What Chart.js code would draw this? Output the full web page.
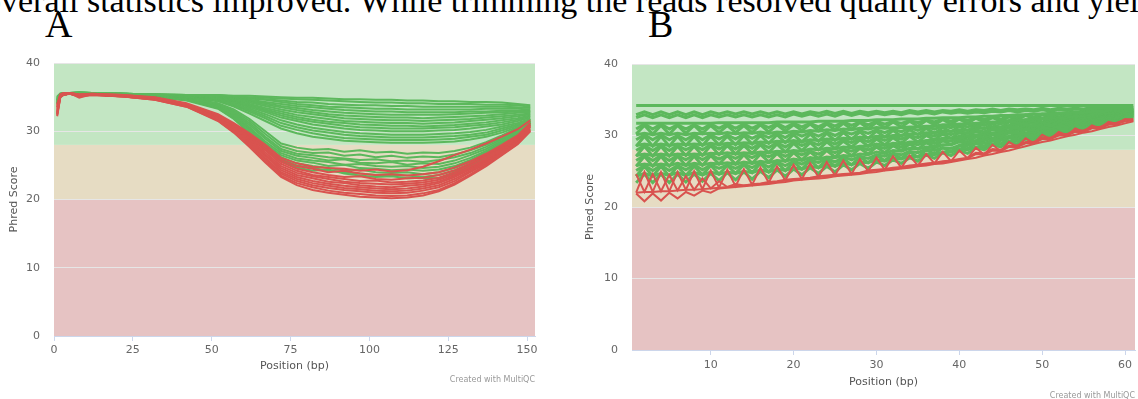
<!DOCTYPE html>
<html><head><meta charset="utf-8">
<script src="https://cdn.jsdelivr.net/npm/chart.js@4.4.1/dist/chart.umd.min.js"></script>
<style>
html,body{margin:0;padding:0;background:#fff;width:1138px;height:399px;overflow:hidden;position:relative}
.para{position:absolute;left:-16px;top:-16px;font-family:"Liberation Serif",serif;font-size:34px;line-height:1;white-space:nowrap;color:#000}
.lab{position:absolute;font-family:"Liberation Serif",serif;font-size:38px;line-height:1;color:#000}
.credit{position:absolute;font-family:"DejaVu Sans",sans-serif;font-size:8px;line-height:1;color:#999;white-space:nowrap}
.box{position:absolute}
canvas{display:block}
</style></head>
<body>
<div class="para">overall statistics improved. While trimming the reads resolved quality errors and yielded</div>
<div class="lab" style="left:45px;top:5px">A</div>
<div class="lab" style="left:648px;top:5px">B</div>
<div class="box" style="left:0;top:50px"><canvas id="cA" width="545" height="335"></canvas></div>
<div class="box" style="left:575px;top:50px"><canvas id="cB" width="563" height="349"></canvas></div>
<div class="credit" style="right:603px;top:376px">Created with MultiQC</div>
<div class="credit" style="right:3px;top:392px">Created with MultiQC</div>
<script>
// ---------- data ----------
const xTicksA = [0,25,50,75,100,125,150];
const xTicksB = [10,20,30,40,50,60];
const yTicks = [0,10,20,30,40];
const zoneFrom = [0,20,28];
const zoneTo = [20,28,40];

const posA = [1,2,3,5,8,12,22,32,42,52,57,62,67,72,77,82,87,92,97,102,107,112,117,122,127,132,137,142,147,151];

const passA = [
[35.0,35.5,35.6,35.6,35.7,35.6,35.5,35.4,35.3,35.3,35.2,35.2,35.1,35.0,34.9,34.9,34.8,34.7,34.7,34.6,34.6,34.5,34.5,34.4,34.4,34.3,34.3,34.2,34.0,33.8],
[34.8,35.4,35.6,35.6,35.7,35.6,35.5,35.4,35.3,35.3,35.1,35.0,34.9,34.8,34.7,34.6,34.5,34.4,34.3,34.2,34.2,34.1,34.1,34.0,34.0,34.0,33.9,33.9,33.8,33.6],
[35.1,35.5,35.6,35.6,35.6,35.6,35.5,35.4,35.3,35.2,35.0,34.9,34.7,34.5,34.3,34.2,34.0,33.9,33.8,33.8,33.7,33.7,33.6,33.6,33.6,33.6,33.6,33.6,33.5,33.4],
[34.6,35.3,35.5,35.6,35.6,35.6,35.5,35.4,35.3,35.2,35.0,34.8,34.6,34.3,34.0,33.8,33.6,33.5,33.4,33.3,33.3,33.2,33.2,33.2,33.2,33.2,33.3,33.3,33.3,33.2],
[35.0,35.5,35.6,35.6,35.7,35.6,35.5,35.4,35.2,35.1,34.9,34.6,34.3,34.0,33.7,33.5,33.3,33.1,33.0,32.9,32.9,32.8,32.8,32.8,32.8,32.9,32.9,33.0,33.0,33.0],
[34.5,35.3,35.5,35.6,35.6,35.6,35.5,35.4,35.2,35.1,34.8,34.5,34.1,33.7,33.4,33.1,32.9,32.7,32.6,32.5,32.4,32.4,32.4,32.4,32.5,32.6,32.7,32.8,32.9,32.9],
[34.9,35.4,35.6,35.6,35.6,35.6,35.5,35.3,35.2,35.0,34.7,34.4,33.9,33.5,33.1,32.8,32.5,32.3,32.2,32.1,32.0,32.0,31.9,32.0,32.1,32.2,32.3,32.5,32.7,32.8],
[34.3,35.2,35.5,35.6,35.6,35.5,35.5,35.3,35.2,35.0,34.6,34.2,33.7,33.2,32.8,32.5,32.2,31.9,31.8,31.7,31.6,31.6,31.5,31.6,31.7,31.8,32.0,32.2,32.4,32.6],
[34.7,35.4,35.5,35.6,35.6,35.5,35.4,35.3,35.1,34.9,34.5,34.0,33.4,32.9,32.4,32.1,31.8,31.5,31.4,31.3,31.2,31.2,31.1,31.2,31.3,31.5,31.7,31.9,32.2,32.5],
[34.4,35.2,35.5,35.5,35.6,35.5,35.4,35.3,35.1,34.9,34.4,33.8,33.2,32.6,32.1,31.7,31.4,31.2,31.0,30.9,30.8,30.8,30.7,30.8,30.9,31.1,31.3,31.6,31.9,32.3],
[34.9,35.4,35.6,35.6,35.6,35.5,35.4,35.2,35.1,34.8,34.3,33.7,33.0,32.3,31.8,31.4,31.1,30.8,30.6,30.5,30.4,30.4,30.4,30.5,30.6,30.8,31.0,31.3,31.7,32.2],
[34.2,35.1,35.4,35.5,35.6,35.5,35.4,35.2,35.0,34.8,34.2,33.5,32.8,32.0,31.5,31.0,30.7,30.4,30.2,30.1,30.0,30.0,30.0,30.1,30.2,30.4,30.7,31.0,31.5,32.0],
[34.6,35.3,35.5,35.6,35.6,35.5,35.4,35.2,35.0,34.7,34.0,33.3,32.5,31.6,31.0,30.5,30.2,29.9,29.7,29.6,29.5,29.5,29.5,29.6,29.7,29.9,30.2,30.7,31.2,31.8],
[34.0,35.0,35.4,35.5,35.6,35.5,35.4,35.2,35.0,34.6,33.9,33.1,32.2,31.2,30.6,30.1,29.8,29.5,29.3,29.2,29.1,29.1,29.1,29.2,29.3,29.5,29.8,30.4,31.0,31.7],
[34.5,35.3,35.5,35.5,35.6,35.5,35.4,35.2,35.0,34.5,33.8,32.9,31.9,30.8,30.2,29.7,29.3,29.0,28.9,28.8,28.7,28.7,28.7,28.8,28.9,29.2,29.5,30.1,30.8,31.6],
[34.1,35.1,35.4,35.5,35.6,35.5,35.4,35.1,34.9,34.4,33.6,32.6,31.5,30.4,29.7,29.2,28.9,28.6,28.5,28.4,28.3,28.3,28.3,28.4,28.5,28.8,29.2,29.8,30.6,31.5],
[34.8,35.4,35.5,35.6,35.6,35.5,35.4,35.2,34.9,34.1,33.2,31.8,30.0,28.2,27.6,27.3,27.4,27.0,27.2,26.9,27.0,26.7,26.9,26.8,27.1,27.6,28.4,29.4,30.5,31.8],
[34.3,35.2,35.5,35.5,35.6,35.5,35.4,35.2,34.9,34.0,33.0,31.5,29.6,27.8,27.1,26.8,26.9,26.4,26.6,26.2,26.4,26.1,26.3,26.2,26.6,27.2,28.0,29.0,30.2,31.5],
[34.7,35.4,35.5,35.6,35.6,35.5,35.4,35.1,34.8,33.9,32.8,31.2,29.2,27.4,26.7,26.5,26.2,26.0,25.8,25.9,25.6,25.7,25.5,25.8,26.2,26.8,27.7,28.8,30.0,31.4],
[34.2,35.1,35.4,35.5,35.6,35.5,35.4,35.1,34.8,33.8,32.6,30.9,28.9,27.1,26.4,26.1,25.7,25.9,25.4,25.3,25.5,25.1,25.3,25.2,25.7,26.5,27.4,28.6,29.9,31.3],
[34.6,35.3,35.5,35.6,35.6,35.5,35.4,35.1,34.7,33.7,32.4,30.6,28.5,26.8,26.0,25.7,25.5,25.1,25.2,24.9,24.8,24.9,24.6,24.8,25.3,26.1,27.1,28.4,29.8,31.3],
[34.0,35.0,35.4,35.5,35.6,35.5,35.3,35.1,34.7,33.6,32.3,30.4,28.2,26.5,25.7,25.4,24.9,25.1,24.6,24.5,24.3,24.4,24.2,24.4,24.9,25.8,26.9,28.2,29.7,31.2],
[34.5,35.3,35.5,35.6,35.6,35.5,35.3,35.0,34.6,33.5,32.1,30.2,27.9,26.2,25.3,24.9,24.6,24.3,24.4,24.0,23.9,24.0,23.7,24.0,24.6,25.5,26.7,28.1,29.6,31.2],
[34.1,35.1,35.4,35.5,35.6,35.5,35.3,35.0,34.6,33.4,31.9,29.9,27.6,25.9,25.0,24.6,24.2,24.0,23.8,23.6,23.5,23.5,23.3,23.6,24.2,25.2,26.4,27.9,29.5,31.1],
[34.4,35.2,35.5,35.6,35.6,35.5,35.3,35.0,34.5,33.3,31.8,29.7,27.4,25.7,24.7,24.2,24.4,23.8,23.5,23.3,23.4,23.1,23.2,23.1,23.8,24.9,26.2,27.7,29.4,31.0]
];

const failA = [
[33.0,35.3,35.5,35.6,35.4,35.5,35.3,35.0,34.1,32.5,31.2,29.7,28.0,26.1,25.3,24.8,24.6,24.5,24.2,24.4,24.1,24.3,24.8,25.6,26.5,27.3,28.2,29.2,30.3,31.6],
[34.0,35.4,35.6,35.6,35.3,35.5,35.3,34.9,34.0,32.4,31.0,29.5,27.7,25.8,24.9,24.5,24.0,24.2,23.8,23.6,23.7,23.5,23.7,24.0,24.7,25.6,26.7,28.0,29.4,31.2],
[32.6,35.1,35.4,35.5,35.2,35.4,35.2,34.9,34.0,32.3,30.9,29.3,27.4,25.5,24.5,24.0,23.6,23.3,23.4,23.0,22.9,23.1,23.2,23.6,24.3,25.3,26.5,27.8,29.2,31.0],
[33.5,35.3,35.5,35.6,34.9,35.4,35.2,34.8,33.9,32.2,30.8,29.1,27.2,25.2,24.2,23.6,23.3,23.0,22.7,22.8,22.5,22.6,22.8,23.2,24.0,25.1,26.3,27.6,29.0,30.9],
[32.8,35.2,35.5,35.5,35.3,35.4,35.2,34.8,33.9,32.1,30.7,28.9,26.9,24.9,23.9,23.4,23.0,22.6,22.4,22.3,22.2,22.3,22.5,22.9,23.7,24.8,26.0,27.4,28.9,30.8],
[33.8,35.4,35.6,35.6,35.4,35.4,35.2,34.8,33.8,32.0,30.5,28.7,26.6,24.6,23.6,23.1,22.6,22.4,22.1,21.9,21.8,22.0,22.2,22.6,23.5,24.6,25.8,27.3,28.8,30.7],
[32.4,35.0,35.4,35.5,35.2,35.4,35.2,34.7,33.8,31.9,30.4,28.5,26.4,24.3,23.3,22.7,22.3,22.0,21.8,21.6,21.5,21.6,21.9,22.4,23.3,24.4,25.7,27.1,28.7,30.6],
[33.3,35.3,35.5,35.6,35.3,35.4,35.1,34.7,33.7,31.8,30.2,28.3,26.1,24.0,23.0,22.4,22.0,21.7,21.5,21.3,21.2,21.3,21.6,22.1,23.0,24.2,25.5,27.0,28.6,30.4],
[32.5,35.1,35.4,35.5,35.1,35.3,35.1,34.7,33.7,31.7,30.1,28.1,25.9,23.8,22.7,22.1,21.7,21.4,21.2,21.0,20.9,21.0,21.3,21.8,22.7,24.0,25.3,26.8,28.4,30.2],
[33.6,35.3,35.5,35.6,35.3,35.4,35.1,34.6,33.6,31.6,29.9,27.9,25.6,23.5,22.4,21.8,21.3,21.0,20.8,20.6,20.5,20.6,20.9,21.4,22.4,23.7,25.1,26.6,28.2,30.1],
[32.2,35.0,35.3,35.5,35.2,35.3,35.1,34.6,33.6,31.5,29.8,27.7,25.4,23.3,22.1,21.4,21.0,20.7,20.4,20.3,20.2,20.3,20.6,21.2,22.2,23.5,24.9,26.5,28.1,30.0]
];

const posB = [1,2,3,4,5,6,7,8,9,10,11,12,13,14,15,16,17,18,19,20,21,22,23,24,25,26,27,28,29,30,31,32,33,34,35,36,37,38,39,40,41,42,43,44,45,46,47,48,49,50,51,52,53,54,55,56,57,58,59,60,61];

const passB = [
[34.2,34.2,34.2,34.2,34.2,34.2,34.2,34.2,34.2,34.2,34.2,34.2,34.2,34.2,34.2,34.2,34.2,34.2,34.2,34.2,34.2,34.2,34.2,34.2,34.2,34.2,34.2,34.2,34.2,34.2,34.2,34.2,34.2,34.2,34.2,34.2,34.2,34.2,34.2,34.2,34.2,34.2,34.2,34.2,34.2,34.2,34.2,34.2,34.2,34.2,34.2,34.2,34.2,34.2,34.2,34.2,34.2,34.2,34.2,34.2,34.2],
[32.9,33.3,32.9,33.3,32.9,33.3,32.9,33.3,32.9,33.3,33.0,33.3,33.0,33.3,33.0,33.3,33.0,33.3,33.0,33.3,33.0,33.3,33.1,33.4,33.1,33.4,33.1,33.4,33.2,33.4,33.2,33.4,33.2,33.5,33.3,33.5,33.3,33.5,33.4,33.6,33.4,33.6,33.5,33.7,33.5,33.7,33.6,33.7,33.6,33.8,33.6,33.8,33.7,33.8,33.7,33.9,33.8,33.9,33.8,33.9,33.9],
[32.5,32.9,32.5,32.9,32.5,32.9,32.5,32.9,32.5,32.9,32.6,32.9,32.6,32.9,32.6,32.9,32.6,32.9,32.6,33.0,32.7,33.0,32.7,33.0,32.7,33.1,32.8,33.1,32.8,33.1,32.9,33.1,32.9,33.2,33.0,33.2,33.0,33.3,33.1,33.3,33.1,33.3,33.2,33.4,33.3,33.5,33.3,33.5,33.4,33.6,33.4,33.6,33.5,33.7,33.6,33.7,33.7,33.8,33.7,33.8,33.8],
[31.7,31.7,31.7,31.7,31.7,31.7,31.7,31.7,31.7,31.7,31.8,31.8,31.8,31.8,31.8,31.8,31.8,31.9,31.9,31.9,31.9,31.9,32.0,32.0,32.0,32.0,32.1,32.1,32.1,32.2,32.2,32.2,32.3,32.3,32.3,32.4,32.4,32.5,32.5,32.5,32.6,32.6,32.7,32.7,32.8,32.8,32.9,32.9,33.0,33.0,33.1,33.1,33.2,33.3,33.3,33.4,33.5,33.5,33.6,33.6,33.7],
[30.9,31.6,30.9,31.6,30.9,31.5,30.9,31.5,30.9,31.6,31.0,31.6,31.0,31.6,31.0,31.6,31.1,31.7,31.1,31.7,31.2,31.7,31.2,31.8,31.3,31.9,31.4,31.9,31.5,32.0,31.6,32.0,31.7,32.1,31.8,32.2,31.9,32.3,32.0,32.4,32.1,32.5,32.2,32.6,32.3,32.7,32.5,32.9,32.6,33.0,32.8,33.1,32.9,33.2,33.1,33.4,33.2,33.5,33.4,33.7,33.6],
[30.2,31.4,30.2,31.4,30.2,31.4,30.3,31.4,30.3,31.4,30.4,31.4,30.4,31.4,30.4,31.5,30.5,31.5,30.6,31.5,30.7,31.6,30.7,31.6,30.8,31.7,30.9,31.8,31.0,31.8,31.1,31.9,31.2,32.0,31.3,32.1,31.5,32.2,31.6,32.3,31.7,32.4,31.9,32.5,32.0,32.6,32.2,32.8,32.4,32.9,32.5,33.0,32.7,33.2,32.9,33.3,33.0,33.5,33.2,33.6,33.5],
[30.1,30.3,30.1,30.3,30.1,30.3,30.1,30.3,30.2,30.3,30.2,30.4,30.2,30.4,30.3,30.5,30.3,30.5,30.4,30.6,30.5,30.7,30.6,30.8,30.7,30.9,30.8,31.0,30.9,31.1,31.0,31.1,31.1,31.2,31.2,31.3,31.3,31.5,31.5,31.6,31.6,31.7,31.8,31.9,31.9,32.1,32.1,32.2,32.3,32.4,32.4,32.6,32.6,32.8,32.8,33.0,33.0,33.2,33.2,33.4,33.5],
[29.4,30.1,29.4,30.1,29.4,30.0,29.4,30.1,29.4,30.1,29.5,30.1,29.5,30.2,29.6,30.2,29.7,30.3,29.7,30.4,29.9,30.4,29.9,30.5,30.0,30.6,30.2,30.7,30.3,30.8,30.4,30.9,30.5,31.1,30.7,31.2,30.9,31.3,31.1,31.5,31.2,31.6,31.4,31.8,31.6,32.0,31.8,32.2,32.0,32.4,32.2,32.6,32.4,32.8,32.7,33.0,32.9,33.2,33.1,33.5,33.4],
[28.5,29.9,28.5,29.9,28.5,29.9,28.6,29.9,28.6,29.9,28.7,29.9,28.7,30.0,28.8,30.0,28.9,30.1,29.0,30.1,29.1,30.2,29.2,30.3,29.3,30.4,29.5,30.5,29.6,30.6,29.8,30.7,29.9,30.8,30.1,31.0,30.3,31.1,30.5,31.3,30.7,31.4,30.9,31.6,31.1,31.9,31.4,32.1,31.6,32.3,31.9,32.5,32.1,32.7,32.4,32.9,32.7,33.2,33.0,33.5,33.2],
[28.6,28.8,28.6,28.8,28.6,28.8,28.7,28.8,28.7,28.9,28.7,28.9,28.8,29.0,28.9,29.1,29.0,29.2,29.1,29.3,29.1,29.4,29.3,29.5,29.4,29.6,29.5,29.8,29.7,29.9,29.8,30.0,30.0,30.2,30.2,30.4,30.4,30.6,30.6,30.8,30.7,31.0,31.0,31.2,31.2,31.4,31.4,31.7,31.7,31.9,31.9,32.2,32.2,32.5,32.5,32.7,32.8,33.0,33.1,33.2,33.3],
[27.9,28.6,27.9,28.6,27.9,28.6,28.0,28.6,28.0,28.7,28.1,28.7,28.1,28.8,28.2,28.9,28.3,29.0,28.4,29.1,28.6,29.1,28.7,29.3,28.8,29.4,29.0,29.6,29.1,29.7,29.3,29.8,29.5,30.0,29.7,30.2,29.9,30.4,30.1,30.6,30.3,30.8,30.5,31.0,30.8,31.2,31.0,31.5,31.3,31.8,31.6,32.0,31.9,32.3,32.2,32.6,32.5,32.9,32.8,33.2,33.2],
[27.1,28.5,27.1,28.5,27.1,28.5,27.2,28.5,27.2,28.6,27.3,28.6,27.4,28.6,27.5,28.7,27.6,28.8,27.7,28.9,27.9,29.0,28.0,29.1,28.2,29.2,28.4,29.4,28.5,29.5,28.7,29.7,28.9,29.9,29.1,30.0,29.4,30.2,29.6,30.4,29.9,30.6,30.1,30.9,30.4,31.2,30.7,31.4,31.0,31.7,31.3,31.9,31.6,32.2,31.9,32.6,32.3,32.9,32.6,33.3,33.0],
[27.2,27.4,27.2,27.4,27.2,27.4,27.3,27.4,27.3,27.5,27.4,27.6,27.4,27.6,27.5,27.7,27.6,27.8,27.7,27.9,27.8,28.1,28.0,28.2,28.1,28.4,28.3,28.5,28.5,28.8,28.6,28.9,28.8,29.1,29.1,29.3,29.3,29.6,29.6,29.9,29.8,30.1,30.1,30.4,30.4,30.7,30.7,31.0,31.0,31.4,31.3,31.7,31.7,32.0,32.0,32.4,32.4,32.8,32.8,33.1,33.1],
[26.5,27.2,26.5,27.2,26.5,27.2,26.6,27.3,26.6,27.3,26.7,27.3,26.8,27.4,26.9,27.5,27.0,27.6,27.1,27.7,27.3,27.8,27.4,28.0,27.6,28.1,27.8,28.3,28.0,28.5,28.2,28.7,28.4,28.9,28.7,29.1,28.9,29.4,29.2,29.7,29.4,29.9,29.7,30.2,30.0,30.5,30.3,30.8,30.7,31.1,31.0,31.4,31.4,31.8,31.8,32.2,32.1,32.6,32.5,33.0,33.0],
[25.7,27.1,25.7,27.1,25.7,27.1,25.8,27.1,25.8,27.2,26.0,27.2,26.0,27.3,26.1,27.4,26.3,27.5,26.4,27.6,26.6,27.7,26.8,27.9,27.0,28.0,27.2,28.2,27.4,28.4,27.6,28.6,27.9,28.8,28.1,29.0,28.4,29.3,28.7,29.5,29.0,29.8,29.3,30.1,29.7,30.4,30.0,30.8,30.4,31.1,30.7,31.5,31.1,31.9,31.5,32.2,31.9,32.6,32.4,33.0,32.8],
[25.8,26.0,25.8,26.0,25.8,26.1,25.8,26.1,25.9,26.1,26.0,26.2,26.0,26.3,26.1,26.4,26.2,26.5,26.4,26.7,26.5,26.9,26.7,27.0,26.9,27.2,27.1,27.4,27.3,27.7,27.5,27.9,27.8,28.2,28.1,28.4,28.3,28.7,28.7,29.1,28.9,29.3,29.3,29.6,29.6,29.9,30.0,30.3,30.3,30.7,30.7,31.1,31.1,31.5,31.5,31.9,31.9,32.3,32.3,32.7,32.9],
[25.1,25.8,25.1,25.8,25.1,25.8,25.2,25.9,25.2,25.9,25.4,25.9,25.4,26.0,25.5,26.2,25.6,26.3,25.8,26.4,26.0,26.6,26.2,26.8,26.3,27.0,26.6,27.1,26.8,27.3,27.1,27.5,27.3,27.8,27.6,28.1,27.9,28.3,28.2,28.6,28.6,28.9,28.9,29.3,29.3,29.7,29.7,30.1,30.1,30.5,30.5,30.9,30.9,31.4,31.4,31.8,31.8,32.3,32.3,32.8,32.8],
[24.3,25.7,24.3,25.7,24.3,25.7,24.4,25.7,24.5,25.8,24.6,25.8,24.7,25.9,24.8,26.1,24.9,26.2,25.1,26.3,25.3,26.5,25.5,26.6,25.7,26.8,25.9,27.0,26.2,27.2,26.5,27.4,26.8,27.7,27.0,28.0,27.4,28.3,27.7,28.6,28.1,28.9,28.5,29.3,28.8,29.7,29.3,30.0,29.7,30.4,30.2,30.8,30.6,31.2,31.1,31.8,31.5,32.2,32.0,32.7,32.6],
[24.3,24.7,24.3,24.7,24.4,24.8,24.4,24.8,24.5,24.9,24.6,24.9,24.7,25.0,24.8,25.2,24.9,25.3,25.1,25.5,25.3,25.7,25.5,25.9,25.7,26.1,25.9,26.3,26.2,26.6,26.4,26.8,26.7,27.1,27.0,27.4,27.3,27.7,27.7,28.1,28.0,28.4,28.4,28.8,28.8,29.2,29.2,29.6,29.6,30.0,30.1,30.4,30.5,30.9,31.0,31.4,31.4,31.9,31.9,32.4,32.7],
[23.4,24.6,23.4,24.6,23.4,24.6,23.5,24.6,23.6,24.7,23.7,24.8,23.8,24.9,23.9,25.0,24.1,25.2,24.3,25.3,24.5,25.5,24.7,25.7,24.9,25.9,25.2,26.1,25.4,26.3,25.8,26.6,26.1,26.9,26.4,27.3,26.8,27.6,27.2,27.9,27.5,28.3,28.0,28.7,28.4,29.1,28.8,29.5,29.3,29.9,29.7,30.4,30.2,30.8,30.7,31.4,31.2,31.8,31.7,32.4,32.5]
];

const failB = [
[22.0,24.9,22.1,24.9,22.2,24.9,22.4,25.0,22.5,25.1,22.7,25.2,22.9,25.3,23.1,25.5,23.4,25.7,23.7,25.9,23.9,26.1,24.2,26.3,24.4,26.5,24.6,26.7,25.0,26.9,25.2,27.1,25.5,27.2,25.8,27.4,26.1,27.7,26.4,27.9,26.8,28.3,27.3,28.7,27.8,29.1,28.4,29.6,28.9,30.1,29.5,30.5,30.0,31.0,30.5,31.4,31.0,31.9,31.6,32.3,32.1],
[24.6,22.1,24.6,22.2,24.5,22.3,24.3,22.4,24.0,22.6,23.6,22.8,23.2,23.0,23.2,23.3,23.5,23.6,23.8,23.9,24.0,24.1,24.3,24.4,24.5,24.6,24.7,24.8,25.1,25.2,25.3,25.5,25.6,25.8,25.9,26.1,26.2,26.4,26.5,26.7,26.9,27.6,27.5,28.1,28.0,28.6,28.6,29.1,29.1,29.7,29.7,30.2,30.2,30.7,30.7,31.2,31.2,31.7,31.8,32.2,32.3],
[22.0,22.1,22.1,22.2,22.2,22.3,22.4,22.4,22.5,22.6,22.7,22.8,22.9,23.0,23.1,23.2,23.4,23.5,23.7,23.8,23.9,24.0,24.2,24.3,24.4,24.5,24.6,24.7,25.0,25.1,25.2,25.4,25.5,25.7,25.8,26.0,26.1,26.3,26.4,26.6,26.8,27.4,27.3,27.9,27.8,28.4,28.4,28.9,28.9,29.5,29.5,30.0,30.0,30.5,30.5,31.0,31.0,31.5,31.6,32.0,32.1],
[21.9,20.8,21.9,20.9,22.0,21.2,22.1,21.6,22.3,22.0,22.6,22.7,22.8,22.9,23.0,23.1,23.2,23.4,23.5,23.7,23.8,23.9,24.0,24.1,24.3,24.4,24.5,24.6,24.8,24.9,25.1,25.2,25.4,25.5,25.7,25.8,26.0,26.1,26.3,26.5,26.7,26.9,27.2,27.4,27.7,27.9,28.2,28.5,28.8,29.1,29.3,29.6,29.9,30.1,30.4,30.6,30.9,31.2,31.4,31.7,32.0]
];

// ---------- rendering ----------
Chart.defaults.font.family = '"DejaVu Sans", sans-serif';
Chart.defaults.font.size = 11;
Chart.defaults.color = '#666666';

const zonePlugin = {
  id: 'zones',
  beforeDraw(chart) {
    const {ctx, chartArea: a, scales: {y}} = chart;
    const fills = ['#e6c3c3', '#e6dcc3', '#c3e6c3'];
    ctx.save();
    zoneFrom.forEach((f, i) => {
      const top = y.getPixelForValue(zoneTo[i]);
      const bot = y.getPixelForValue(f);
      ctx.fillStyle = fills[i];
      ctx.fillRect(a.left, top, a.right - a.left, bot - top);
    });
    ctx.restore();
  }
};

function datasets(pos, pass, fail, wPass, wFail) {
  const out = [];
  fail.forEach(s => out.push({data: pos.map((x, i) => ({x, y: s[i]})), borderColor: '#d9534f', borderWidth: wFail}));
  pass.forEach(s => out.push({data: pos.map((x, i) => ({x, y: s[i]})), borderColor: '#5cb85c', borderWidth: wPass}));
  return out;
}

function makeChart(id, pos, pass, fail, o) {
  return new Chart(document.getElementById(id), {
    type: 'line',
    data: {datasets: datasets(pos, pass, fail, o.wPass, o.wFail)},
    plugins: [zonePlugin],
    options: {
      responsive: false,
      animation: false,
      devicePixelRatio: 1,
      events: [],
      layout: {padding: o.pad},
      elements: {
        line: {borderWidth: 2, tension: 0, fill: false},
        point: {radius: 0}
      },
      plugins: {legend: {display: false}, tooltip: {enabled: false}},
      scales: {
        x: {
          type: 'linear', min: o.xmin, max: o.xmax,
          afterBuildTicks: s => { s.ticks = o.xt.map(v => ({value: v})); },
          afterFit: s => { s.height = o.xh; },
          grid: {drawOnChartArea: false, drawTicks: true, tickLength: 5, color: '#ccd6eb'},
          border: {display: true, color: '#ccd6eb'},
          ticks: {padding: o.xtp, maxRotation: 0, autoSkip: false, color: '#666666'},
          title: {display: true, text: 'Position (bp)', color: '#555555', padding: {top: 0, bottom: o.xtitle}}
        },
        y: {
          type: 'linear', min: 0, max: 40,
          afterBuildTicks: s => { s.ticks = yTicks.map(v => ({value: v})); },
          afterFit: s => { s.width = o.yw; },
          grid: {color: '#e6e6e6', drawTicks: true, tickLength: 14, tickColor: 'rgba(0,0,0,0)'},
          border: {display: false},
          ticks: {padding: 0, color: '#666666'},
          title: {display: true, text: 'Phred Score', color: '#555555', padding: {top: o.ytitle, bottom: 0}}
        }
      }
    }
  });
}

makeChart('cA', posA, passA, failA, {pad: {left: 0, right: 10, top: 13, bottom: 0}, xmin: 0, xmax: 152.5, xt: xTicksA, xh: 49, xtp: 3, xtitle: 12, yw: 54, ytitle: 8, wPass: 2, wFail: 2});
makeChart('cB', posB, passB, failB, {pad: {left: 0, right: 3, top: 14, bottom: 0}, xmin: 0.5, xmax: 61.2, xt: xTicksB, xh: 49, xtp: 4, xtitle: 10, yw: 57, ytitle: 9, wPass: 3, wFail: 2});
</script>
</body></html>
